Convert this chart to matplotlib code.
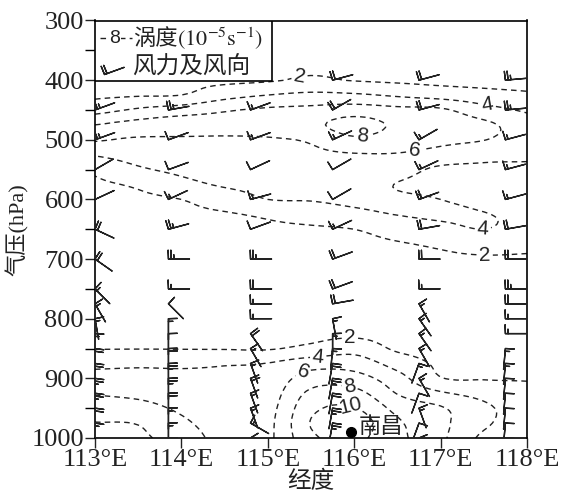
import numpy as np
import matplotlib
matplotlib.use('Agg')
import matplotlib.pyplot as plt
from matplotlib.patches import Rectangle

plt.rcParams['font.family'] = ['Liberation Serif', 'Noto Sans CJK SC']
plt.rcParams['mathtext.fontset'] = 'stix'
plt.rcParams['lines.dashed_pattern'] = (4.0, 3.0)

# vorticity section (1e-5 s-1), one list per longitude, top (300 hPa) to bottom
lon_grid = [113.0, 113.5, 114.0, 114.5, 115.0, 115.5, 116.0, 116.5, 117.0, 117.5, 118.0]
p_grid = [300, 350, 400, 425, 450, 475, 500, 525, 550, 575, 600, 625, 650, 675, 700,
          750, 800, 825, 850, 875, 900, 925, 950, 975, 1000]
vort_1130 = [0.2, 0.7, 1.2, 1.68, 3.23, 6.0, 6.14, 4.16, 2.41, 1.65, 1.2, 1.05, 0.9, 0.75, 0.6,
             0.7, 0.8, 1.37, 1.93, 3.47, 4.76, 5.87, 6.98, 8.07, 9.0]
vort_1135 = [0.2, 0.8, 1.4, 1.85, 4.29, 6.58, 5.8, 4.8, 3.71, 2.29, 1.6, 1.15, 1.0, 0.8, 0.6,
             0.7, 0.8, 1.4, 1.95, 3.64, 4.7, 5.58, 6.65, 7.9, 8.4]
vort_1140 = [0.2, 0.9, 1.6, 2.0, 5.0, 7.0, 5.69, 5.04, 4.39, 3.43, 2.0, 1.6, 1.2, 0.95, 0.7,
             0.7, 0.8, 1.2, 1.93, 3.63, 4.49, 5.1, 5.71, 6.34, 7.0]
vort_1145 = [0.3, 0.9, 1.6, 3.26, 5.8, 6.7, 5.73, 5.22, 4.71, 4.2, 3.0, 1.82, 1.4, 1.1, 0.8,
             0.7, 0.8, 1.2, 1.9, 3.83, 4.4, 4.8, 5.1, 5.3, 5.4]
vort_1150 = [0.3, 0.9, 1.8, 4.0, 6.28, 6.9, 5.82, 5.36, 4.91, 4.45, 4.0, 2.33, 1.6, 1.2, 0.9,
             0.7, 0.8, 1.2, 1.85, 4.05, 4.6, 5.0, 5.3, 5.5, 5.6]
vort_1155 = [0.3, 1.0, 2.25, 4.42, 6.53, 7.55, 6.23, 5.62, 5.14, 4.67, 4.1, 3.0, 1.7, 1.3, 1.0,
             0.7, 0.9, 1.4, 2.5, 5.08, 6.97, 8.43, 9.49, 10.1, 9.6]
vort_1160 = [0.3, 1.0, 1.9, 4.27, 7.0, 8.76, 7.64, 5.86, 5.36, 4.86, 4.36, 3.56, 2.0, 1.5, 1.1,
             0.8, 1.1, 1.6, 3.27, 5.06, 6.83, 8.65, 10.1, 11.0, 10.4]
vort_1165 = [0.3, 1.0, 1.7, 3.73, 6.54, 7.67, 7.0, 5.87, 4.78, 3.93, 4.25, 4.05, 2.81, 1.85, 1.5,
             1.0, 0.9, 1.2, 1.7, 3.22, 4.74, 5.9, 7.39, 8.3, 8.5]
vort_1170 = [0.3, 0.9, 1.5, 3.2, 6.29, 7.0, 6.44, 5.29, 3.64, 3.5, 4.0, 4.25, 3.5, 2.25, 1.7,
             1.2, 0.9, 1.1, 1.4, 1.7, 2.1, 4.26, 6.2, 6.5, 6.4]
vort_1175 = [0.3, 0.8, 1.4, 2.67, 4.77, 6.39, 6.05, 4.56, 3.61, 3.0, 3.56, 4.05, 4.0, 2.68, 1.8,
             1.3, 1.0, 1.2, 1.4, 1.7, 1.9, 3.33, 4.4, 4.3, 3.6]
vort_1180 = [0.3, 0.8, 1.3, 2.29, 3.71, 5.0, 5.04, 4.28, 3.72, 3.29, 3.4, 3.7, 3.27, 2.39, 1.8,
             1.3, 1.0, 1.2, 1.4, 1.6, 1.9, 2.5, 2.9, 3.1, 3.1]

# wind barbs: direction the wind blows towards (deg from east) and speed
barb_lon = [113.0, 113.85, 114.8, 115.75, 116.75, 117.75]
barb_p = [1000, 975, 950, 925, 900, 875, 850, 825, 800, 775, 750, 700, 650, 600, 550, 500, 450, 400]
wdir_1 = [-100, -100, -100, -100, -100, -100, -100, -95, -80, -60, -45, -35, -25, 25, 30, 20, 20, 15]
wspd_1 = [20, 15, 20, 25, 25, 20, 20, 15, 15, 15, 15, 20, 20, 10, 10, 25, 25, 25]
wdir_2 = [-90, -90, -90, -90, -90, -90, -90, -90, -90, -45, 0, 0, 15, 25, 20, 20, 10, 15]
wspd_2 = [10, 15, 15, 20, 25, 25, 20, 10, 15, 10, 15, 25, 25, 15, 10, 10, 25, 20]
wdir_3 = [-60, -30, -70, -70, -70, -70, -60, -55, 0, 0, 0, 0, 20, 15, 25, 20, 20, 15]
wspd_3 = [15, 15, 15, 15, 20, 15, 15, 20, 15, 15, 20, 25, 10, 15, 10, 15, 15, 20]
wdir_4 = [-100, -100, -100, -100, -100, -100, -95, -90, -80, 10, 20, 20, 25, 30, 30, 25, 30, 15]
wspd_4 = [20, 25, 25, 20, 25, 20, 15, 15, 15, 20, 20, 20, 15, 10, 10, 15, 20, 20]
wdir_5 = [-70, -110, -70, -110, -60, -110, -60, -55, -55, -60, 0, 0, 10, 20, 25, 30, 15, 15]
wspd_5 = [10, 10, 15, 10, 15, 15, 15, 15, 15, 15, 15, 20, 20, 20, 15, 15, 20, 20]
wdir_6 = [-95, -95, -95, -95, -95, -95, -95, 0, 0, 0, 0, 0, 10, 15, 15, 15, 5, 5]
wspd_6 = [10, 10, 10, 10, 10, 15, 15, 15, 15, 20, 25, 20, 20, 15, 15, 15, 25, 25]

stn_lon, stn_p, stn_name = 115.96, 990, '南昌'
contour_levels = [2, 4, 6, 8, 10]


def catmull(y, t):
    # smooth Catmull-Rom resampling of a 1-D profile at fractional indices t
    y = np.asarray(y, float)
    yp = np.concatenate([[2 * y[0] - y[1]], y, [2 * y[-1] - y[-2]]])
    i = np.clip(np.floor(t).astype(int), 0, len(y) - 2)
    s = t - i
    p0, p1, p2, p3 = yp[i], yp[i + 1], yp[i + 2], yp[i + 3]
    return 0.5 * (2 * p1 + (p2 - p0) * s + (2 * p0 - 5 * p1 + 4 * p2 - p3) * s ** 2
                  + (3 * p1 - p0 - 3 * p2 + p3) * s ** 3)


vort = np.column_stack([vort_1130, vort_1135, vort_1140, vort_1145, vort_1150, vort_1155,
                        vort_1160, vort_1165, vort_1170, vort_1175, vort_1180])
ti = np.linspace(0, len(p_grid) - 1, (len(p_grid) - 1) * 6 + 1)
tj = np.linspace(0, len(lon_grid) - 1, (len(lon_grid) - 1) * 8 + 1)
zf = np.apply_along_axis(catmull, 0, vort, ti)
zf = np.apply_along_axis(catmull, 1, zf, tj)
pf = np.interp(ti, np.arange(len(p_grid)), p_grid)
lf = np.interp(tj, np.arange(len(lon_grid)), lon_grid)
LON, P = np.meshgrid(lf, pf)

fig = plt.figure(figsize=(5.72, 4.95), dpi=100)
ax = fig.add_axes([95 / 572, 1 - 438 / 495, 432 / 572, 417.5 / 495])

cs = ax.contour(LON, P, zf, levels=contour_levels, colors='#222222',
                linewidths=1.0, linestyles='dashed')
label_pos = [(115.37, 397), (117.54, 447), (116.09, 496), (116.70, 524),
             (117.49, 652), (117.51, 690), (115.95, 836), (115.58, 858),
             (115.40, 887), (115.95, 913), (115.95, 950)]
txts = ax.clabel(cs, fmt='%d', fontsize=15, inline=True, inline_spacing=3, manual=label_pos)
for t in txts:
    t.set_fontfamily('Liberation Sans')
    t.set_color('#222222')

dirs = [wdir_1, wdir_2, wdir_3, wdir_4, wdir_5, wdir_6]
spds = [wspd_1, wspd_2, wspd_3, wspd_4, wspd_5, wspd_6]
BX, BY, U, V = [], [], [], []
for lon, d, s in zip(barb_lon, dirs, spds):
    a = np.deg2rad(d)
    BX += [lon] * len(barb_p)
    BY += barb_p
    U += list(np.array(s) * np.cos(a))
    V += list(np.array(s) * np.sin(a))

# barbs anchored at the feathered end
blen = 5.5
bsizes = dict(spacing=0.13, height=0.42, width=0.03)
binc = dict(half=5, full=10, flag=50)
ax.barbs(BX, BY, U, V, length=blen, pivot=-blen, sizes=bsizes, barb_increments=binc,
         color='#222222', linewidth=1.0, zorder=3)

ax.plot(stn_lon, stn_p, 'o', color='black', ms=7, zorder=6, clip_on=False)
ax.annotate(stn_name, (stn_lon, stn_p), xytext=(6, 4), textcoords='offset points',
            ha='left', va='center', fontsize=16, family=['Noto Sans CJK SC'],
            color='#222222', zorder=6)

# legend box
ax.add_patch(Rectangle((0, 0.856), 0.41, 0.144, transform=ax.transAxes, facecolor='white',
                       edgecolor='black', lw=1.2, zorder=10))
ax.plot([0.012, 0.085], [0.958, 0.958], transform=ax.transAxes, ls='dashed',
        color='#222222', lw=1.0, zorder=11)
ax.text(0.046, 0.958, '8', transform=ax.transAxes, ha='center', va='center', fontsize=14,
        family='Liberation Sans', zorder=12, color='#222222',
        bbox=dict(facecolor='white', edgecolor='none', pad=0.5))
ax.text(0.088, 0.956, '涡度', transform=ax.transAxes, family=['Noto Sans CJK SC'],
        ha='left', va='center', fontsize=16, zorder=12, color='#222222')
ax.text(0.19, 0.956, '$(10^{-5}\\mathrm{s}^{-1})$', transform=ax.transAxes,
        ha='left', va='center', fontsize=16, zorder=12, color='#222222')
la = np.deg2rad(20)
ax.barbs([0.02], [0.872], [20 * np.cos(la)], [20 * np.sin(la)], transform=ax.transAxes,
         length=blen, pivot=-blen, sizes=bsizes, barb_increments=binc,
         color='#222222', linewidth=1.0, zorder=12)
ax.text(0.085, 0.886, '风力及风向', transform=ax.transAxes, ha='left', va='center',
        fontsize=17, zorder=12, color='#222222')

ax.set_xlim(113, 118)
ax.set_ylim(1000, 300)
ax.set_xticks(range(113, 119))
ax.set_xticklabels(['{}°E'.format(v) for v in range(113, 119)])
ax.set_yticks(range(300, 1001, 100))
ax.set_yticks(range(350, 1000, 100), minor=True)
ax.tick_params(axis='both', which='major', direction='out', length=7, width=1,
               labelsize=19, pad=1, colors='#222222')
ax.tick_params(axis='y', which='minor', direction='out', length=7, width=1)
for sp in ax.spines.values():
    sp.set_linewidth(1.2)
ax.set_xlabel('经度', fontsize=17, labelpad=0, color='#222222')
ax.set_ylabel('气压(hPa)', fontsize=16, labelpad=2, color='#222222')

plt.savefig('out.png', dpi=100)
